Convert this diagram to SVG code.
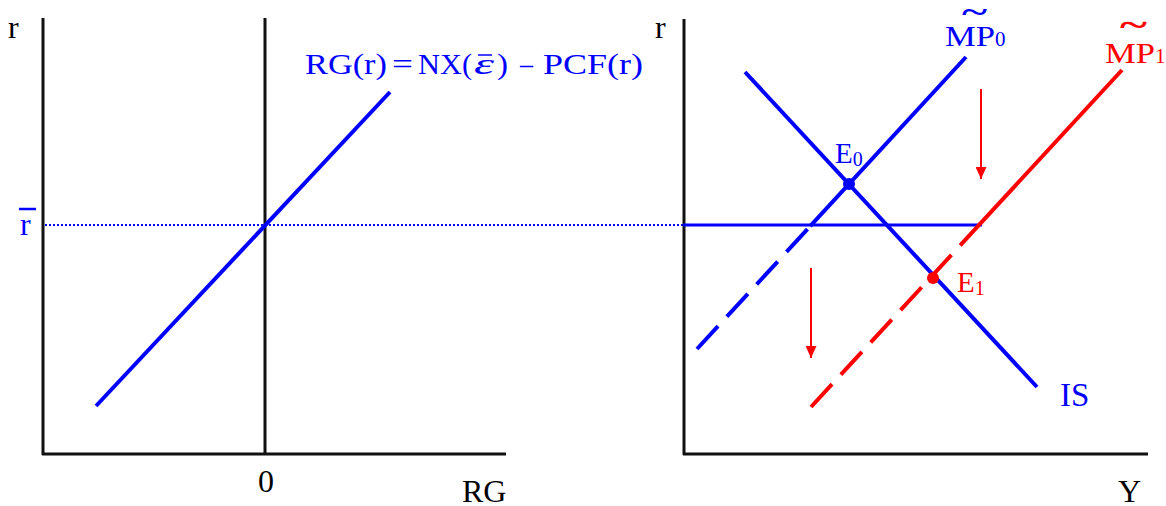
<svg xmlns="http://www.w3.org/2000/svg" width="1166" height="506" viewBox="0 0 1166 506">
<style>
text{font-family:"Liberation Serif","Times New Roman",serif}
.ax{stroke:#111;stroke-width:3;fill:none}
.b{stroke:#0000ff;stroke-width:4;fill:none}
.r{stroke:#ff0000;stroke-width:4;fill:none}
.dash{stroke-dasharray:31 13}
.lb{font-size:32px;fill:#000}
.bt{fill:#0000ff}
.rt{fill:#ff0000}
</style>
<defs>
<marker id="ah" viewBox="0 0 12 11" refX="12" refY="5.5" markerWidth="12" markerHeight="11" markerUnits="userSpaceOnUse" orient="auto">
<path d="M0,0 L12,5.5 L0,11 Z" fill="#ff0000"/>
</marker>
</defs>
<rect width="1166" height="506" fill="#fff"/>
<g id="left-panel">
<path class="ax" d="M43,18 V455 M42,454 H506 M265,18 V454"/>
<line x1="45" y1="225" x2="683" y2="225" stroke="#0000ff" stroke-width="2" stroke-dasharray="2 2"/>
<line class="b" x1="96" y1="406" x2="390" y2="92"/>
<text class="lb" x="8" y="38">r</text>
<text class="lb" x="258" y="492">0</text>
<text class="lb" x="462" y="502">RG</text>
<text class="bt" font-size="32" x="20" y="235">r</text>
<line x1="19" y1="209" x2="36" y2="209" stroke="#0000ff" stroke-width="2.5"/>
<text class="bt" font-size="29" y="74"><tspan x="305" textLength="82" lengthAdjust="spacingAndGlyphs">RG(r)</tspan><tspan x="392" textLength="21" lengthAdjust="spacingAndGlyphs">=</tspan><tspan x="418" textLength="54" lengthAdjust="spacingAndGlyphs">NX(</tspan><tspan x="474" font-style="italic" textLength="20" lengthAdjust="spacingAndGlyphs">ε</tspan><tspan x="497" textLength="11" lengthAdjust="spacingAndGlyphs">)</tspan><tspan x="520" textLength="13" lengthAdjust="spacingAndGlyphs">–</tspan><tspan x="543" textLength="100" lengthAdjust="spacingAndGlyphs">PCF(r)</tspan></text>
<line x1="478" y1="55" x2="492" y2="55" stroke="#0000ff" stroke-width="1.5"/>
</g>
<g id="right-panel">
<path class="ax" d="M684,19 V455 M683,454 H1148"/>
<line x1="683" y1="225" x2="982" y2="225" stroke="#0000ff" stroke-width="3"/>
</g>
<g id="connectors">
<line class="b dash" x1="697" y1="349" x2="807.5" y2="229.2"/>
<line class="b" x1="810.2" y1="226.2" x2="966" y2="57"/>
<line class="b" x1="745" y1="72" x2="1037" y2="387"/>
<line class="r dash" x1="811" y1="407" x2="951.5" y2="254.9"/>
<line class="r" x1="960.2" y1="245.3" x2="1122" y2="70"/>
<line x1="981" y1="89" x2="981" y2="179" stroke="#ff0000" stroke-width="2" marker-end="url(#ah)"/>
<line x1="811" y1="268" x2="811" y2="358" stroke="#ff0000" stroke-width="2" marker-end="url(#ah)"/>
</g>
<g id="E0">
<circle cx="849" cy="184" r="6" fill="#0000ff"/>
<text class="bt" font-size="29" x="835" y="163">E<tspan font-size="20" dy="3">0</tspan></text>
</g>
<g id="E1">
<circle cx="933" cy="278" r="6" fill="#ff0000"/>
<text class="rt" font-size="29" x="957" y="292">E<tspan font-size="20" dy="3">1</tspan></text>
</g>
<g id="labels">
<text class="lb" x="655" y="38">r</text>
<text class="lb" x="1118" y="502">Y</text>
<text class="bt" font-size="33" x="1060" y="406">IS</text>
<text class="bt" font-size="29" x="945" y="46" textLength="50" lengthAdjust="spacingAndGlyphs">MP</text>
<text class="bt" font-size="21" x="995" y="46">0</text>
<text class="bt" font-size="32" font-weight="bold" x="962" y="22" textLength="25" lengthAdjust="spacingAndGlyphs">~</text>
<text class="rt" font-size="29" x="1105" y="63" textLength="50" lengthAdjust="spacingAndGlyphs">MP</text>
<text class="rt" font-size="21" x="1155" y="63">1</text>
<text class="rt" font-size="34" font-weight="bold" x="1120" y="36" textLength="27" lengthAdjust="spacingAndGlyphs">~</text>
</g>
</svg>
